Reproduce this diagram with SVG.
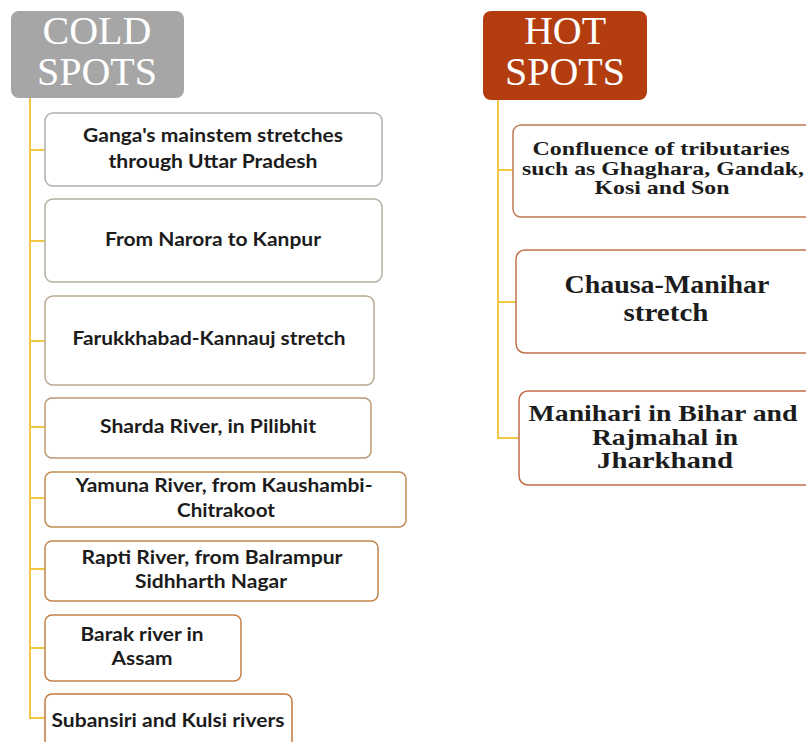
<svg xmlns="http://www.w3.org/2000/svg" width="806" height="742" viewBox="0 0 806 742">
<style>
.hdr{font-family:"Liberation Serif","Times New Roman",serif;font-size:40px;fill:#ffffff;text-anchor:middle}
.cold{font-family:Lato,"Liberation Sans",sans-serif;font-weight:bold;font-size:18px;fill:#1c1c1c;text-anchor:middle}
.hot{font-family:"Liberation Serif","Times New Roman",serif;font-weight:bold;fill:#1c1c1c;text-anchor:middle}
.box{fill:#ffffff;stroke-width:1.5}
.conn{fill:none;stroke:#f2c744;stroke-width:2}
</style>
<rect width="806" height="742" fill="#ffffff"/>
<g id="connectors">
<path class="conn" d="M30,98 V718 H45"/>
<path class="conn" d="M30,150 H45 M30,241 H45 M30,341 H45 M30,427 H45 M30,498 H45 M30,569 H45 M30,648 H45"/>
<path class="conn" d="M498,100 V438 H519"/>
<path class="conn" d="M498,170 H513 M498,302 H516"/>
</g>
<g id="cold-header">
<rect x="11" y="11" width="173" height="87" rx="8" fill="#a6a6a6"/>
<text class="hdr" x="97" y="44">COLD</text>
<text class="hdr" x="97" y="85">SPOTS</text>
</g>
<g id="hot-header">
<rect x="483" y="11" width="164" height="89" rx="8" fill="#b33d0e"/>
<text class="hdr" x="565" y="44" fill="#fdf3ea">HOT</text>
<text class="hdr" x="565" y="85">SPOTS</text>
</g>
<g id="cold-1">
<rect class="box" x="45" y="113" width="337" height="73" rx="8" stroke="#b0b0b0"/>
<text class="cold" x="213" y="142" textLength="260" lengthAdjust="spacingAndGlyphs">Ganga's mainstem stretches</text>
<text class="cold" x="213" y="168" textLength="209" lengthAdjust="spacingAndGlyphs">through Uttar Pradesh</text>
</g>
<g id="cold-2">
<rect class="box" x="45" y="199" width="337" height="83" rx="8" stroke="#b6b0a4"/>
<text class="cold" x="213" y="246" textLength="216" lengthAdjust="spacingAndGlyphs">From Narora to Kanpur</text>
</g>
<g id="cold-3">
<rect class="box" x="45" y="296" width="329" height="89" rx="8" stroke="#b8a890"/>
<text class="cold" x="209" y="345" textLength="273" lengthAdjust="spacingAndGlyphs">Farukkhabad-Kannauj stretch</text>
</g>
<g id="cold-4">
<rect class="box" x="45" y="398" width="326" height="60" rx="7" stroke="#bc9a70"/>
<text class="cold" x="208" y="433" textLength="216" lengthAdjust="spacingAndGlyphs">Sharda River, in Pilibhit</text>
</g>
<g id="cold-5">
<rect class="box" x="45" y="472" width="361" height="55" rx="7" stroke="#c28a52"/>
<text class="cold" x="224" y="492" textLength="297" lengthAdjust="spacingAndGlyphs">Yamuna River, from Kaushambi-</text>
<text class="cold" x="226" y="517" textLength="98" lengthAdjust="spacingAndGlyphs">Chitrakoot</text>
</g>
<g id="cold-6">
<rect class="box" x="45" y="541" width="333" height="60" rx="7" stroke="#c2864c"/>
<text class="cold" x="212" y="564" textLength="261" lengthAdjust="spacingAndGlyphs">Rapti River, from Balrampur</text>
<text class="cold" x="211" y="588" textLength="152" lengthAdjust="spacingAndGlyphs">Sidhharth Nagar</text>
</g>
<g id="cold-7">
<rect class="box" x="45" y="615" width="196" height="66" rx="7" stroke="#c28046"/>
<text class="cold" x="142" y="641" textLength="123" lengthAdjust="spacingAndGlyphs">Barak river in</text>
<text class="cold" x="142" y="665" textLength="61" lengthAdjust="spacingAndGlyphs">Assam</text>
</g>
<g id="cold-8">
<rect class="box" x="45" y="694" width="247" height="70" rx="7" stroke="#c27a3c"/>
<text class="cold" x="168" y="727" textLength="233" lengthAdjust="spacingAndGlyphs">Subansiri and Kulsi rivers</text>
</g>
<g id="hot-1">
<rect class="box" x="513" y="125" width="310" height="92" rx="8" stroke="#c07a52"/>
<text class="hot" x="661" y="155" font-size="19" textLength="257" lengthAdjust="spacingAndGlyphs">Confluence of tributaries</text>
<text class="hot" x="663" y="175" font-size="19" textLength="282" lengthAdjust="spacingAndGlyphs">such as Ghaghara, Gandak,</text>
<text class="hot" x="662" y="194" font-size="19" textLength="135" lengthAdjust="spacingAndGlyphs">Kosi and Son</text>
</g>
<g id="hot-2">
<rect class="box" x="516" y="250" width="310" height="103" rx="9" stroke="#c0724c"/>
<text class="hot" x="667" y="293" font-size="25" textLength="205" lengthAdjust="spacingAndGlyphs">Chausa-Manihar</text>
<text class="hot" x="666" y="321" font-size="25" textLength="85" lengthAdjust="spacingAndGlyphs">stretch</text>
</g>
<g id="hot-3">
<rect class="box" x="519" y="391" width="310" height="94" rx="9" stroke="#c06c48"/>
<text class="hot" x="663" y="421" font-size="23" textLength="269" lengthAdjust="spacingAndGlyphs">Manihari in Bihar and</text>
<text class="hot" x="665" y="445" font-size="23" textLength="146" lengthAdjust="spacingAndGlyphs">Rajmahal in</text>
<text class="hot" x="665" y="468" font-size="23" textLength="136" lengthAdjust="spacingAndGlyphs">Jharkhand</text>
</g>
</svg>
